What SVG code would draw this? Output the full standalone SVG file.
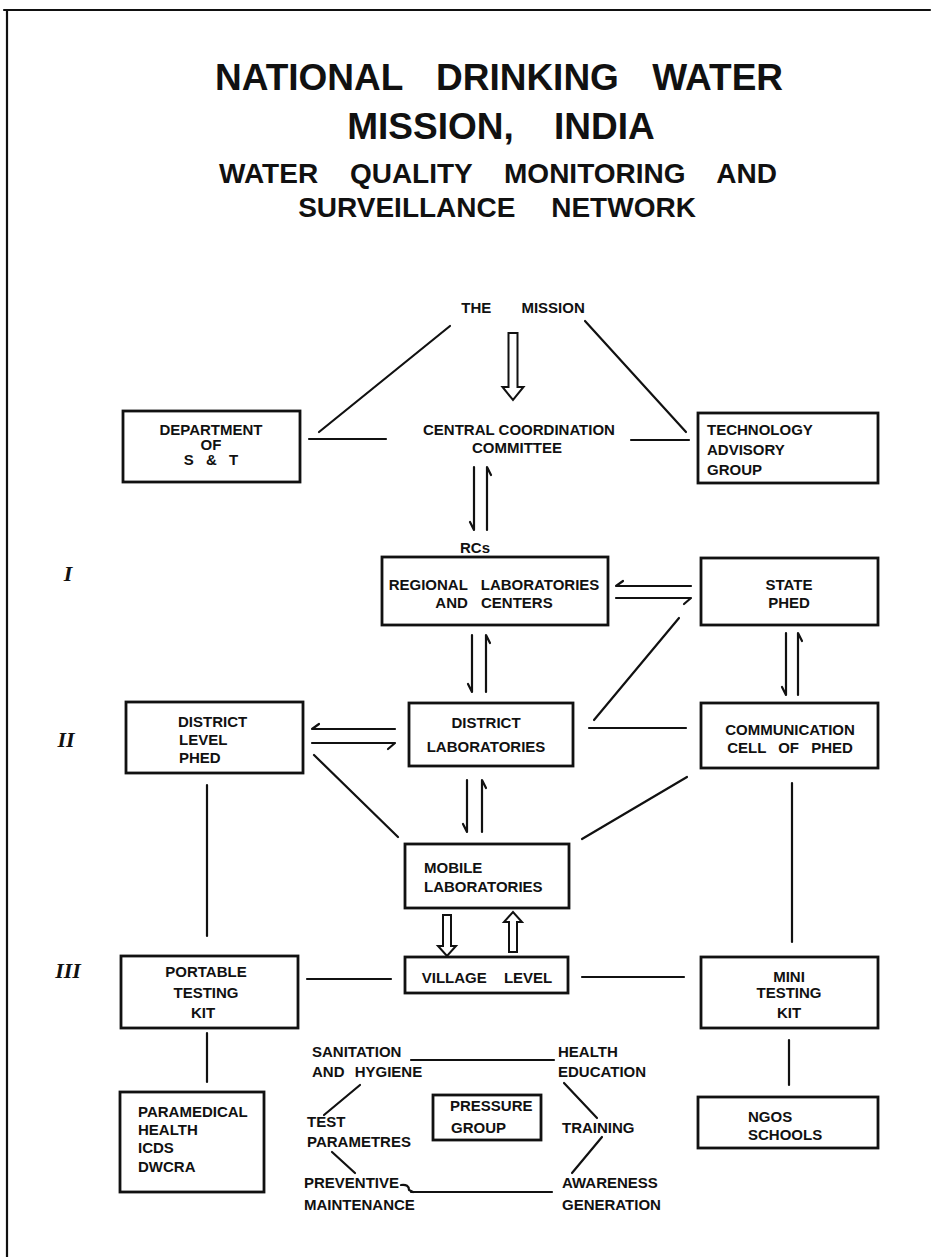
<svg xmlns="http://www.w3.org/2000/svg" width="934" height="1257" viewBox="0 0 934 1257">
<style>
  .bg { fill: #ffffff; }
  .box { fill: none; stroke: #111; stroke-width: 2.8; }
  .ln { fill: none; stroke: #111; stroke-width: 2.2; stroke-linecap: round; stroke-linejoin: round; }
  .hol { fill: #fff; stroke: #111; stroke-width: 2; stroke-linejoin: miter; }
  .t { font-family: "Liberation Sans", Arial, sans-serif; font-weight: bold; font-size: 15px; fill: #111; }
  .c { text-anchor: middle; }
  .ti { font-family: "Liberation Sans", Arial, sans-serif; font-weight: bold; fill: #111; text-anchor: middle; }
  .rn { font-family: "Liberation Serif", "Times New Roman", serif; font-weight: bold; font-style: italic; font-size: 22px; fill: #111; text-anchor: middle; }
</style>
<rect class="bg" x="0" y="0" width="934" height="1257"/>

<g id="page-border">
  <line class="ln" x1="4" y1="10" x2="930" y2="10"/>
  <line class="ln" x1="7" y1="10" x2="7" y2="1257"/>
</g>

<g id="title">
  <text class="ti" x="499" y="90" font-size="37" word-spacing="23">NATIONAL DRINKING WATER</text>
  <text class="ti" x="501" y="139" font-size="37" word-spacing="30">MISSION, INDIA</text>
  <text class="ti" x="498" y="183" font-size="28" word-spacing="24">WATER QUALITY MONITORING AND</text>
  <text class="ti" x="497" y="217" font-size="28" word-spacing="28">SURVEILLANCE NETWORK</text>
</g>

<g id="levels">
  <text class="rn" x="68" y="581">I</text>
  <text class="rn" x="66" y="747">II</text>
  <text class="rn" x="68" y="978">III</text>
</g>

<g id="connectors">
  <!-- mission triangle -->
  <line class="ln" x1="319" y1="432" x2="450" y2="326"/>
  <line class="ln" x1="585" y1="321" x2="686" y2="432"/>
  <line class="ln" x1="309" y1="439" x2="386" y2="439"/>
  <line class="ln" x1="631" y1="440" x2="689" y2="440"/>
  <!-- hollow arrow mission -> CCC -->
  <path class="hol" d="M508.5,333 L517.5,333 L517.5,387 L523.5,387 L513,400 L502.5,387 L508.5,387 Z"/>
  <!-- CCC <-> RCs harpoons -->
  <path class="ln" d="M474,467 L474,530 L470,522"/>
  <path class="ln" d="M487,530 L487,467 L491,475"/>
  <!-- Regional <-> State -->
  <path class="ln" d="M691,586 L616,586 L623,581"/>
  <path class="ln" d="M616,598 L691,598 L684,604"/>
  <!-- Regional <-> District Lab -->
  <path class="ln" d="M472,635 L472,692 L468,684"/>
  <path class="ln" d="M486,692 L486,635 L490,643"/>
  <!-- State <-> Communication -->
  <path class="ln" d="M786,633 L786,695 L782,687"/>
  <path class="ln" d="M798,695 L798,633 L802,641"/>
  <!-- State - District Lab diagonal -->
  <line class="ln" x1="679" y1="618" x2="594" y2="720"/>
  <!-- District Level PHED <-> District Lab -->
  <path class="ln" d="M395,729 L312,729 L319,724"/>
  <path class="ln" d="M312,743 L395,743 L388,749"/>
  <!-- District Lab - Communication -->
  <line class="ln" x1="589" y1="728" x2="686" y2="728"/>
  <!-- diagonals to mobile lab -->
  <line class="ln" x1="314" y1="755" x2="398" y2="837"/>
  <line class="ln" x1="687" y1="777" x2="582" y2="839"/>
  <!-- District Lab <-> Mobile Lab -->
  <path class="ln" d="M467,780 L467,832 L463,824"/>
  <path class="ln" d="M482,832 L482,780 L486,788"/>
  <!-- verticals -->
  <line class="ln" x1="207" y1="785" x2="207" y2="936"/>
  <line class="ln" x1="792" y1="783" x2="792" y2="942"/>
  <!-- hollow arrows mobile <-> village -->
  <path class="hol" d="M443,915 L451,915 L451,946 L456,946 L447,956 L438,946 L443,946 Z"/>
  <path class="hol" d="M509,952 L517,952 L517,922 L522,922 L513,912 L504,922 L509,922 Z"/>
  <!-- village level lines -->
  <line class="ln" x1="307" y1="979" x2="391" y2="979"/>
  <line class="ln" x1="582" y1="977" x2="684" y2="977"/>
  <!-- verticals to lower boxes -->
  <line class="ln" x1="207" y1="1033" x2="207" y2="1082"/>
  <line class="ln" x1="789" y1="1040" x2="789" y2="1085"/>
  <!-- activity cycle -->
  <line class="ln" x1="411" y1="1060" x2="554" y2="1060"/>
  <line class="ln" x1="360" y1="1085" x2="324" y2="1115"/>
  <line class="ln" x1="564" y1="1083" x2="597" y2="1118"/>
  <line class="ln" x1="602" y1="1137" x2="572" y2="1173"/>
  <line class="ln" x1="332" y1="1152" x2="355" y2="1173"/>
  <line class="ln" x1="411" y1="1192" x2="552" y2="1192"/>
  <path class="ln" d="M401,1185 Q409,1184 409,1190 L413,1192" stroke-width="3.5"/>
</g>

<g id="node-mission">
  <text class="t c" x="523" y="313" font-size="14" word-spacing="26">THE MISSION</text>
</g>
<g id="node-dept">
  <rect class="box" x="123" y="411" width="177" height="71"/>
  <text class="t c" x="211" y="435">DEPARTMENT</text>
  <text class="t c" x="211" y="450">OF</text>
  <text class="t c" x="211" y="465" word-spacing="8">S &amp; T</text>
</g>
<g id="node-ccc">
  <text class="t c" x="519" y="435">CENTRAL COORDINATION</text>
  <text class="t c" x="517" y="453">COMMITTEE</text>
</g>
<g id="node-tech">
  <rect class="box" x="698" y="413" width="180" height="70"/>
  <text class="t" x="707" y="435">TECHNOLOGY</text>
  <text class="t" x="707" y="455">ADVISORY</text>
  <text class="t" x="707" y="475">GROUP</text>
</g>
<g id="node-rcs">
  <text class="t c" x="475" y="553" font-size="14">RCs</text>
</g>
<g id="node-regional">
  <rect class="box" x="382" y="557" width="226" height="68"/>
  <text class="t c" x="494" y="590" word-spacing="9">REGIONAL LABORATORIES</text>
  <text class="t c" x="494" y="608" word-spacing="9">AND CENTERS</text>
</g>
<g id="node-state">
  <rect class="box" x="701" y="558" width="177" height="67"/>
  <text class="t c" x="789" y="590">STATE</text>
  <text class="t c" x="789" y="608">PHED</text>
</g>
<g id="node-district-phed">
  <rect class="box" x="126" y="702" width="177" height="71"/>
  <text class="t" x="178" y="727">DISTRICT</text>
  <text class="t" x="179" y="745">LEVEL</text>
  <text class="t" x="179" y="763">PHED</text>
</g>
<g id="node-district-lab">
  <rect class="box" x="409" y="703" width="164" height="63"/>
  <text class="t c" x="486" y="728">DISTRICT</text>
  <text class="t c" x="486" y="752">LABORATORIES</text>
</g>
<g id="node-communication">
  <rect class="box" x="701" y="703" width="177" height="65"/>
  <text class="t c" x="790" y="735">COMMUNICATION</text>
  <text class="t c" x="790" y="753" word-spacing="8">CELL OF PHED</text>
</g>
<g id="node-mobile">
  <rect class="box" x="405" y="844" width="164" height="64"/>
  <text class="t" x="424" y="873">MOBILE</text>
  <text class="t" x="424" y="892">LABORATORIES</text>
</g>
<g id="node-portable">
  <rect class="box" x="121" y="956" width="177" height="72"/>
  <text class="t c" x="206" y="977">PORTABLE</text>
  <text class="t c" x="206" y="998">TESTING</text>
  <text class="t c" x="203" y="1018">KIT</text>
</g>
<g id="node-village">
  <rect class="box" x="405" y="957" width="163" height="36"/>
  <text class="t c" x="487" y="983" word-spacing="13">VILLAGE LEVEL</text>
</g>
<g id="node-mini">
  <rect class="box" x="701" y="957" width="177" height="71"/>
  <text class="t c" x="789" y="982">MINI</text>
  <text class="t c" x="789" y="998">TESTING</text>
  <text class="t c" x="789" y="1018">KIT</text>
</g>
<g id="node-paramedical">
  <rect class="box" x="120" y="1092" width="144" height="100"/>
  <text class="t" x="138" y="1117">PARAMEDICAL</text>
  <text class="t" x="138" y="1135">HEALTH</text>
  <text class="t" x="138" y="1153">ICDS</text>
  <text class="t" x="138" y="1172">DWCRA</text>
</g>
<g id="node-ngos">
  <rect class="box" x="698" y="1097" width="180" height="51"/>
  <text class="t" x="748" y="1122">NGOS</text>
  <text class="t" x="748" y="1140">SCHOOLS</text>
</g>
<g id="node-pressure">
  <rect class="box" x="433" y="1095" width="108" height="45"/>
  <text class="t" x="450" y="1111">PRESSURE</text>
  <text class="t" x="451" y="1133">GROUP</text>
</g>
<g id="node-sanitation">
  <text class="t" x="312" y="1057">SANITATION</text>
  <text class="t" x="312" y="1077" word-spacing="6">AND HYGIENE</text>
</g>
<g id="node-health-education">
  <text class="t" x="558" y="1057">HEALTH</text>
  <text class="t" x="558" y="1077">EDUCATION</text>
</g>
<g id="node-test">
  <text class="t" x="307" y="1127">TEST</text>
  <text class="t" x="307" y="1147">PARAMETRES</text>
</g>
<g id="node-training">
  <text class="t" x="562" y="1133">TRAINING</text>
</g>
<g id="node-preventive">
  <text class="t" x="304" y="1188">PREVENTIVE</text>
  <text class="t" x="304" y="1210">MAINTENANCE</text>
</g>
<g id="node-awareness">
  <text class="t" x="562" y="1188">AWARENESS</text>
  <text class="t" x="562" y="1210">GENERATION</text>
</g>
</svg>
